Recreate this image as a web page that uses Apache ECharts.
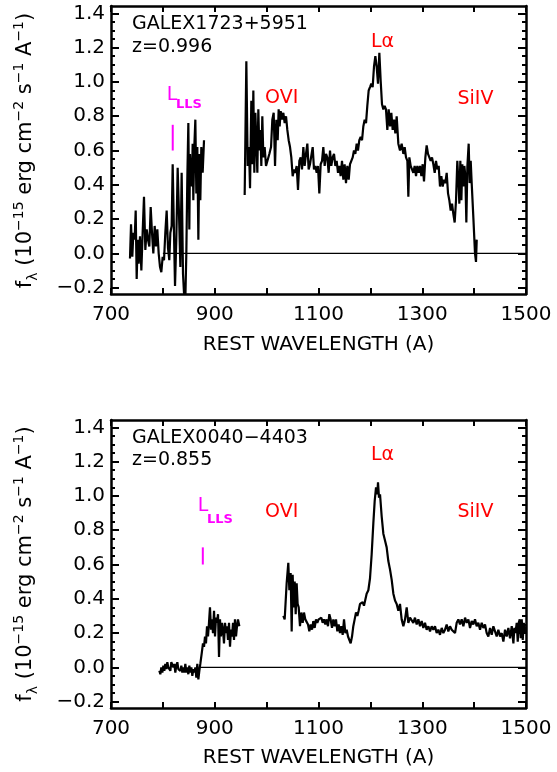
<!DOCTYPE html>
<html>
<head>
<meta charset="utf-8">
<script src="https://cdn.jsdelivr.net/npm/echarts@6/dist/echarts.min.js"></script>
<style>html,body{margin:0;padding:0;background:#fff}#c{width:557px;height:772px}</style>
</head>
<body>
<div id="c"></div>
<script>
// ---------- DATA ----------
const xTicks = [700, 800, 900, 1000, 1100, 1200, 1300, 1400, 1500];
const yMajorTicks = [-0.2, 0, 0.2, 0.4, 0.6, 0.8, 1.0, 1.2, 1.4];
const yMinorTicks = [-0.15,-0.1,-0.05,0.05,0.1,0.15,0.25,0.3,0.35,0.45,0.5,0.55,0.65,0.7,0.75,0.85,0.9,0.95,1.05,1.1,1.15,1.25,1.3,1.35];

// Top panel: GALEX1723+5951, segment 1
const topWave1 = [736.6,738.6,741.1,743.1,745.6,747.6,749.5,751.4,753.3,755.9,758.5,761.0,763.6,766.2,768.8,771.3,773.9,776.5,779.0,781.6,784.2,786.7,789.3,791.9,794.5,797.0,799.6,802.2,804.7,807.3,809.9,812.4,814.4,816.9,818.9,821.4,823.4,825.9,828.5,831.1,833.7,836.2,838.8,840.7,843.3,845.2,847.1,849.1,851.0,852.3,854.2,856.1,857.4,858.7,860.6,862.6,864.5,866.4,868.4,870.3,872.2,874.1,876.7,879.3];
const topFlux1 = [-0.03,0.17,-0.02,0.12,0.08,0.25,-0.15,0.08,-0.06,0.10,-0.10,0.12,0.33,0.02,0.14,0.08,0.04,0.27,0.12,0.00,0.16,0.04,0.14,0.00,-0.08,-0.11,-0.02,-0.04,0.12,0.25,0.03,-0.04,0.12,0.16,0.52,0.12,-0.19,0.08,0.50,0.23,-0.08,0.47,-0.12,-0.23,-0.27,0.00,0.43,0.76,0.14,0.58,0.45,0.39,0.64,0.31,0.62,0.78,0.35,0.62,0.08,0.58,0.31,0.62,0.47,0.66];
// Top panel, segment 2
const topWave2 = [957.7,960.9,963.5,966.0,968.0,970.5,972.5,974.4,976.3,978.3,980.2,982.1,984.0,986.0,987.9,989.8,991.7,993.7,996.2,998.8,1002.0,1005.2,1008.5,1011.0,1013.6,1016.2,1018.7,1021.3,1023.2,1025.1,1027.1,1029.6,1032.2,1034.8,1037.4,1039.9,1042.5,1045.1,1047.6,1050.2,1052.8,1055.3,1057.9,1060.5,1063.1,1065.6,1068.2,1070.8,1073.3,1075.9,1078.5,1081.0,1083.6,1086.2,1088.8,1091.3,1093.9,1096.5,1099.0,1101.6,1104.2,1106.8,1109.3,1111.9,1114.5,1117.0,1119.6,1122.2,1124.7,1127.3,1129.9,1132.5,1135.0,1137.6,1140.2,1142.7,1145.3,1147.9,1150.4,1153.0,1155.6,1158.2,1160.7,1163.3,1165.9,1168.4,1171.0,1173.6,1176.1,1178.7,1181.3,1183.9,1186.4,1189.0,1191.6,1194.1,1196.7,1199.3,1201.8,1204.4,1207.0,1209.6,1212.1,1214.7,1217.3,1219.8,1222.4,1225.0,1227.5,1230.1,1232.7,1235.3,1237.9,1240.4,1243.0,1245.6,1248.1,1250.7,1253.9,1257.1,1260.3,1263.6,1266.1,1268.7,1271.3,1273.2,1275.1,1277.7,1280.3,1282.8,1285.4,1288.0,1290.5,1293.1,1295.7,1298.3,1300.8,1303.4,1306.0,1308.5,1311.1,1313.7,1316.2,1318.8,1321.4,1324.0,1326.5,1329.1,1331.7,1334.2,1336.8,1339.4,1341.9,1344.5,1347.1,1349.7,1352.2,1354.8,1357.4,1359.9,1362.5,1365.1,1367.6,1370.2,1371.5,1373.4,1375.4,1377.3,1379.2,1381.2,1383.1,1385.0,1387.0,1389.5,1391.4,1393.4,1395.3,1398.5,1401.7,1403.6,1405.0];
const topFlux2 = [0.34,1.12,0.51,0.62,0.38,0.89,0.52,0.95,0.47,0.82,0.66,0.47,0.84,0.60,0.72,0.51,0.80,0.56,0.62,0.51,0.52,0.58,0.62,0.78,0.82,0.51,0.78,0.66,0.84,0.74,0.83,0.78,0.82,0.76,0.80,0.72,0.66,0.62,0.56,0.45,0.49,0.47,0.51,0.37,0.54,0.56,0.49,0.62,0.51,0.58,0.64,0.49,0.52,0.51,0.62,0.49,0.51,0.47,0.51,0.35,0.52,0.54,0.62,0.51,0.58,0.56,0.47,0.60,0.51,0.56,0.58,0.51,0.54,0.47,0.51,0.45,0.54,0.43,0.52,0.41,0.51,0.43,0.52,0.54,0.56,0.60,0.58,0.64,0.60,0.66,0.68,0.66,0.74,0.78,0.76,0.86,0.95,0.97,0.99,0.97,1.09,1.15,1.09,0.99,1.17,1.01,0.87,0.84,0.86,0.84,0.72,0.84,0.74,0.82,0.72,0.78,0.70,0.80,0.64,0.60,0.64,0.58,0.62,0.56,0.54,0.33,0.56,0.51,0.52,0.47,0.51,0.45,0.51,0.47,0.51,0.45,0.52,0.42,0.56,0.63,0.58,0.56,0.54,0.56,0.52,0.47,0.54,0.49,0.51,0.39,0.45,0.39,0.43,0.41,0.47,0.35,0.31,0.25,0.29,0.23,0.18,0.31,0.54,0.39,0.29,0.54,0.31,0.52,0.39,0.51,0.45,0.18,0.51,0.64,0.41,0.54,0.41,0.21,0.00,-0.05,0.08];
const topZeroLine = [800, 1500];

// Bottom panel: GALEX0040-4403, segment 1
const botWave1 = [793.2,795.1,797.0,799.0,800.9,802.8,804.7,806.7,808.6,810.5,812.4,814.4,816.3,818.2,820.2,822.1,824.0,825.9,827.9,829.8,831.7,833.7,835.6,837.5,839.4,841.4,843.3,845.2,847.1,849.1,851.0,852.9,854.9,856.8,858.7,860.6,862.6,864.5,866.4,868.4,870.3,872.2,874.8,877.3,879.3,881.2,883.1,885.1,887.0,888.9,890.8,892.8,894.7,896.6,898.6,900.5,902.4,904.3,906.3,908.2,910.1,912.0,914.0,915.9,917.8,919.8,921.7,923.6,925.5,927.5,929.4,931.3,933.3,935.2,937.1,939.0,941.0,942.9,944.8,947.4];
const botFlux1 = [-0.02,-0.04,0.00,-0.03,0.01,-0.02,0.02,-0.01,0.03,0.00,0.01,-0.02,0.03,0.04,0.00,0.02,-0.03,0.01,0.03,-0.01,0.00,-0.02,0.01,-0.03,0.00,-0.03,0.02,-0.03,0.00,-0.04,0.01,-0.03,0.00,-0.05,-0.01,-0.03,0.00,-0.06,0.02,-0.07,-0.02,0.02,0.08,0.14,0.12,0.18,0.14,0.24,0.18,0.26,0.35,0.22,0.28,0.20,0.33,0.18,0.29,0.26,0.31,0.06,0.28,0.18,0.26,0.22,0.14,0.26,0.20,0.24,0.16,0.26,0.12,0.22,0.18,0.26,0.16,0.28,0.18,0.24,0.28,0.24];
// Bottom panel, segment 2
const botWave2 = [1032.2,1034.8,1038.6,1041.8,1043.8,1046.3,1048.3,1050.2,1052.1,1054.1,1056.0,1057.9,1059.8,1061.8,1064.3,1066.9,1069.5,1072.0,1074.6,1077.2,1079.8,1082.3,1084.9,1087.5,1090.0,1092.6,1095.2,1097.7,1100.3,1102.9,1105.5,1108.0,1110.6,1113.2,1115.7,1118.3,1120.9,1123.4,1126.0,1128.6,1131.2,1133.7,1136.3,1138.9,1141.4,1144.0,1146.6,1149.2,1151.7,1154.3,1156.9,1159.4,1162.0,1164.6,1167.1,1169.7,1172.3,1174.9,1177.4,1180.0,1182.6,1185.1,1187.7,1190.3,1192.8,1196.1,1199.3,1202.5,1205.7,1208.3,1210.9,1213.4,1214.7,1216.6,1218.6,1221.8,1225.0,1228.2,1231.4,1234.6,1237.9,1241.1,1244.3,1247.5,1250.7,1253.9,1257.1,1260.3,1263.6,1266.8,1270.0,1273.2,1276.4,1279.6,1282.8,1286.0,1289.3,1292.5,1295.7,1298.9,1302.1,1305.3,1308.5,1311.8,1315.0,1318.2,1321.4,1324.6,1327.8,1331.0,1334.2,1337.5,1340.7,1343.9,1347.1,1350.3,1353.5,1356.8,1360.0,1363.2,1366.4,1369.6,1372.8,1376.0,1379.3,1382.5,1385.7,1388.9,1392.1,1395.3,1398.5,1401.7,1404.9,1408.1,1411.4,1414.6,1417.8,1421.0,1424.2,1427.4,1430.7,1433.9,1437.1,1440.3,1443.5,1446.7,1450.0,1453.2,1456.4,1459.6,1462.8,1466.0,1469.2,1472.5,1475.7,1477.6,1479.6,1482.1,1484.1,1486.0,1487.9,1489.9,1491.8,1493.7,1495.7,1498.3,1500.0];
const botFlux2 = [0.30,0.28,0.49,0.61,0.45,0.55,0.21,0.54,0.35,0.50,0.31,0.49,0.37,0.35,0.24,0.32,0.26,0.32,0.28,0.29,0.25,0.21,0.25,0.22,0.27,0.23,0.28,0.26,0.28,0.27,0.29,0.26,0.28,0.25,0.28,0.24,0.31,0.28,0.23,0.28,0.24,0.28,0.21,0.25,0.20,0.24,0.19,0.28,0.20,0.22,0.18,0.17,0.14,0.18,0.24,0.28,0.32,0.30,0.33,0.37,0.36,0.38,0.36,0.35,0.43,0.45,0.52,0.66,0.84,0.97,1.05,1.01,1.08,0.99,1.01,0.88,0.78,0.74,0.70,0.62,0.57,0.51,0.43,0.39,0.37,0.33,0.37,0.28,0.24,0.28,0.35,0.26,0.29,0.28,0.26,0.29,0.25,0.28,0.24,0.27,0.23,0.26,0.22,0.24,0.21,0.24,0.22,0.24,0.20,0.22,0.19,0.23,0.20,0.22,0.25,0.21,0.24,0.22,0.23,0.20,0.26,0.28,0.25,0.28,0.24,0.29,0.26,0.28,0.23,0.27,0.25,0.28,0.24,0.26,0.22,0.26,0.23,0.25,0.20,0.18,0.23,0.19,0.24,0.21,0.18,0.22,0.18,0.20,0.15,0.22,0.18,0.23,0.17,0.24,0.14,0.23,0.20,0.26,0.15,0.26,0.28,0.17,0.28,0.16,0.26,0.20,0.24];
const botZeroLine = [870, 1500];

// Lyman-limit marker positions [wavelength, flux bottom, flux top]
const topLLSMark = [819, 0.60, 0.75];
const botLLSMark = [877, 0.60, 0.70];

// ---------- CHART ----------
const FONT = 'DejaVu Sans';
const zip = (a, b) => a.map((v, i) => [v, b[i]]);
const YMIN = -0.237, YMAX = 1.443;
const grids = [
  {left: 111, top: 6, width: 415, height: 288},
  {left: 111, top: 420, width: 415, height: 288}
];

function xAxes(g) {
  return [
    {gridIndex: g, type: 'value', position: 'bottom', min: 700, max: 1500, interval: 100,
     axisLine: {show: true, onZero: false, lineStyle: {color: '#000', width: 2.5}},
     axisTick: {show: true, inside: true, length: 6, lineStyle: {color: '#000', width: 2}},
     axisLabel: {show: true, margin: 11, color: '#000', fontFamily: FONT, fontSize: 20,
       formatter: v => (xTicks.indexOf(v) % 2 === 0 ? String(v) : '')},
     splitLine: {show: false}},
    {gridIndex: g, type: 'value', position: 'top', min: 700, max: 1500, interval: 100,
     axisLine: {show: true, onZero: false, lineStyle: {color: '#000', width: 2.5}},
     axisTick: {show: true, inside: true, length: 6, lineStyle: {color: '#000', width: 2}},
     axisLabel: {show: false}, splitLine: {show: false}}
  ];
}
function yAxes(g) {
  const base = {gridIndex: g, type: 'value', min: YMIN, max: YMAX, splitLine: {show: false}};
  return [
    Object.assign({}, base, {position: 'left',
      axisLine: {show: true, onZero: false, lineStyle: {color: '#000', width: 2.5}},
      axisTick: {show: true, inside: true, length: 8, customValues: yMajorTicks, lineStyle: {color: '#000', width: 2}},
      axisLabel: {show: true, customValues: yMajorTicks, margin: 6, color: '#000', fontFamily: FONT, fontSize: 20,
        formatter: v => v.toFixed(1).replace('-', '\u2212')}}),
    Object.assign({}, base, {position: 'left',
      axisLine: {show: false, onZero: false},
      axisTick: {show: true, inside: true, length: 4, customValues: yMinorTicks, lineStyle: {color: '#000', width: 2}},
      axisLabel: {show: false}}),
    Object.assign({}, base, {position: 'right',
      axisLine: {show: true, onZero: false, lineStyle: {color: '#000', width: 2.5}},
      axisTick: {show: true, inside: true, length: 8, customValues: yMajorTicks, lineStyle: {color: '#000', width: 2}},
      axisLabel: {show: false}}),
    Object.assign({}, base, {position: 'right',
      axisLine: {show: false, onZero: false},
      axisTick: {show: true, inside: true, length: 4, customValues: yMinorTicks, lineStyle: {color: '#000', width: 2}},
      axisLabel: {show: false}})
  ];
}

function spec(data, xi, yi, w) {
  return {type: 'line', xAxisIndex: xi, yAxisIndex: yi, data: data, showSymbol: false, symbol: 'none',
    clip: true, animation: false, lineStyle: {color: '#000', width: w}, silent: true};
}
function mark(m, xi, yi) {
  return {type: 'line', xAxisIndex: xi, yAxisIndex: yi, data: [[m[0], m[1]], [m[0], m[2]]], showSymbol: false,
    symbol: 'none', animation: false, lineStyle: {color: '#FF00FF', width: 2}, silent: true};
}

const series = [
  spec(zip(topWave1, topFlux1), 0, 0, 2.2),
  spec(zip(topWave2, topFlux2), 0, 0, 2.2),
  spec(topZeroLine.map(x => [x, 0]), 0, 0, 1.3),
  mark(topLLSMark, 0, 0),
  spec(zip(botWave1, botFlux1), 2, 4, 2.2),
  spec(zip(botWave2, botFlux2), 2, 4, 2.2),
  spec(botZeroLine.map(x => [x, 0]), 2, 4, 1.3),
  mark(botLLSMark, 2, 4)
];

function txt(x, y, text, size, color, align, weight) {
  return {type: 'text', x: x, y: y, silent: true,
    style: {text: text, fontFamily: FONT, fontSize: size, fontWeight: weight || 'normal', fill: color,
      align: align || 'center', verticalAlign: 'middle'}};
}
const yTitleRich = {
  n: {fontFamily: FONT, fontSize: 21, lineHeight: 28, verticalAlign: 'middle', fill: '#000'},
  sup: {fontFamily: FONT, fontSize: 14, lineHeight: 14, verticalAlign: 'top', fill: '#000'},
  sub: {fontFamily: FONT, fontSize: 14, lineHeight: 14, verticalAlign: 'bottom', fill: '#000'}
};
const yTitleText = '{n|f}{sub|\u03bb}{n| (10}{sup|\u221215}{n| erg cm}{sup|\u22122}{n| s}{sup|\u22121}{n| A}{sup|\u22121}{n|)}';
function yTitle(cx, cy) {
  return {type: 'text', x: cx, y: cy, rotation: Math.PI / 2, silent: true,
    style: {text: yTitleText, rich: yTitleRich, align: 'center', verticalAlign: 'middle', fill: '#000'}};
}

const graphics = [
  // top panel
  txt(132, 24.5, 'GALEX1723+5951', 19, '#000', 'left'),
  txt(132, 47, 'z=0.996', 19, '#000', 'left'),
  txt(382.5, 42.5, 'L\u03b1', 19, '#FF0000'),
  txt(281.7, 98, 'OVI', 19, '#FF0000'),
  txt(475.5, 99.5, 'SiIV', 19, '#FF0000'),
  txt(318.5, 344.5, 'REST WAVELENGTH (A)', 20, '#000'),
  yTitle(26, 150.5),
  txt(172, 95, 'L', 19, '#FF00FF'),
  txt(189, 104.5, 'LLS', 13, '#FF00FF', 'center', 'bold'),
  // bottom panel
  txt(132, 438, 'GALEX0040\u22124403', 19, '#000', 'left'),
  txt(132, 460.5, 'z=0.855', 19, '#000', 'left'),
  txt(382.5, 455.5, 'L\u03b1', 19, '#FF0000'),
  txt(281.7, 512.5, 'OVI', 19, '#FF0000'),
  txt(475.5, 512.5, 'SiIV', 19, '#FF0000'),
  txt(318.5, 758, 'REST WAVELENGTH (A)', 20, '#000'),
  yTitle(26, 564),
  txt(203, 506.5, 'L', 19, '#FF00FF'),
  txt(220, 519.5, 'LLS', 13, '#FF00FF', 'center', 'bold')
];

const chart = echarts.init(document.getElementById('c'), null, {renderer: 'canvas'});
chart.setOption({
  animation: false,
  backgroundColor: '#fff',
  grid: grids,
  xAxis: [].concat(xAxes(0), xAxes(1)),
  yAxis: [].concat(yAxes(0), yAxes(1)),
  series: series,
  graphic: graphics
});
</script>
</body>
</html>
